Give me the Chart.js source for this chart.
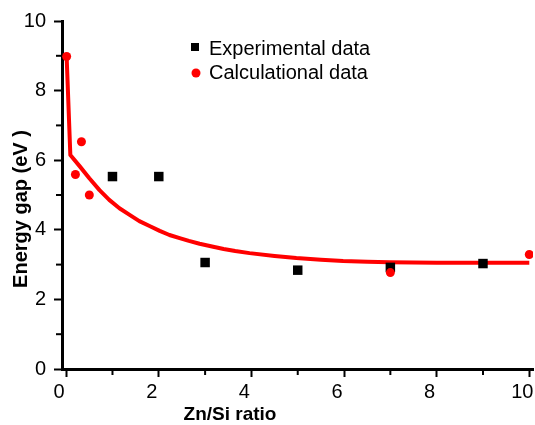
<!DOCTYPE html>
<html>
<head>
<meta charset="utf-8">
<script src="https://cdn.jsdelivr.net/npm/chart.js@4.4.0/dist/chart.umd.min.js"></script>
<style>
  html, body { margin: 0; padding: 0; background: #fff; }
  #wrap { width: 535px; height: 425px; }
</style>
</head>
<body>
<div id="wrap"><canvas id="chart"></canvas></div>
<script>
'use strict';

// experimental points (black squares)
var expX = [1, 2, 3, 5, 7, 9]
var expY = [5.53, 5.53, 3.06, 2.84, 2.92, 3.03]

// calculated points (red dots)
var calcX = [0.01, 0.2, 0.33, 0.5, 7, 10]
var calcY = [8.98, 5.59, 6.53, 5.0, 2.77, 3.29]

// fitted curve
var fitX = [0.01, 0.09, 0.29, 0.5, 0.72, 0.93, 1.15, 1.37, 1.58, 1.8, 2.02, 2.23, 2.45, 2.65, 2.88, 3.15, 3.4, 3.65, 3.96, 4.5, 4.97, 5.5, 5.98, 6.5, 6.98, 8, 9, 10]
var fitY = [8.98, 6.15, 5.83, 5.48, 5.14, 4.86, 4.62, 4.43, 4.25, 4.11, 3.97, 3.85, 3.76, 3.68, 3.6, 3.52, 3.45, 3.39, 3.33, 3.25, 3.19, 3.14, 3.1, 3.08, 3.07, 3.05, 3.05, 3.05]

var xTicks = [0, 2, 4, 6, 8, 10]
var yTicks = [0, 2, 4, 6, 8, 10]
var xMinor = [1, 3, 5, 7, 9]
var yMinor = [1, 3, 5, 7, 9]

var legendLabels = ['Experimental data', 'Calculational data']
var xTitle = 'Zn/Si ratio'
var yTitle = 'Energy gap (eV )'

var red = 'rgb(255, 0, 0)'
var black = '#000'

function toPoints(xs, ys) {
    var pts = []
    for (var i = 0; i < xs.length; i++) {
        pts.push({ x: xs[i], y: ys[i] })
    }
    return pts
}

var extras = {
    id: 'extras',
    afterDraw: function(chart) {
        var ctx = chart.ctx
        var sx = chart.scales.x
        var sy = chart.scales.y
        var area = chart.chartArea
        ctx.save()

        // minor ticks
        ctx.strokeStyle = black
        ctx.lineWidth = 2
        for (var v of xMinor) {
            var px = sx.getPixelForValue(v)
            ctx.beginPath()
            ctx.moveTo(px, area.bottom)
            ctx.lineTo(px, area.bottom + 6)
            ctx.stroke()
        }
        for (var v of yMinor) {
            var py = sy.getPixelForValue(v)
            ctx.beginPath()
            ctx.moveTo(area.left, py)
            ctx.lineTo(area.left - 6, py)
            ctx.stroke()
        }

        // legend
        ctx.fillStyle = black
        ctx.fillRect(191, 43, 8, 8)
        ctx.fillStyle = red
        ctx.beginPath()
        ctx.arc(196, 73, 4.5, 0, Math.PI * 2)
        ctx.fill()
        ctx.fillStyle = black
        ctx.font = '20px "Liberation Sans", Arial, sans-serif'
        ctx.textAlign = 'left'
        ctx.textBaseline = 'alphabetic'
        ctx.fillText(legendLabels[0], 209, 55)
        ctx.fillText(legendLabels[1], 209, 79)

        // axis titles
        ctx.font = 'bold 19px "Liberation Sans", Arial, sans-serif'
        ctx.textAlign = 'center'
        ctx.fillText(xTitle, 230, 420)
        ctx.font = 'bold 20px "Liberation Sans", Arial, sans-serif'
        ctx.translate(27, 209)
        ctx.rotate(-Math.PI / 2)
        ctx.fillText(yTitle, 0, 0)

        ctx.restore()
    }
}

var ctx = document.getElementById('chart').getContext('2d')
new Chart(ctx, {
    type: 'scatter',
    data: {
        datasets: [{
            label: legendLabels[1],
            data: toPoints(calcX, calcY),
            pointStyle: 'circle',
            pointRadius: 4.5,
            pointBackgroundColor: red,
            pointBorderWidth: 0,
            order: 1
        }, {
            label: legendLabels[0],
            data: toPoints(expX, expY),
            pointStyle: 'rect',
            pointRadius: 6.7,
            pointBackgroundColor: black,
            pointBorderWidth: 0,
            order: 2
        }, {
            label: 'fit',
            data: toPoints(fitX, fitY),
            showLine: true,
            borderColor: red,
            borderWidth: 4,
            borderJoinStyle: 'round',
            pointRadius: 0,
            tension: 0,
            order: 3
        }]
    },
    options: {
        responsive: true,
        maintainAspectRatio: false,
        animation: false,
        layout: {
            autoPadding: false,
            padding: { top: 21, right: 2, bottom: 0, left: 0 }
        },
        plugins: {
            legend: { display: false },
            tooltip: { enabled: false }
        },
        scales: {
            x: {
                type: 'linear',
                min: -0.09,
                max: 10.08,
                afterBuildTicks: function(scale) {
                    scale.ticks = xTicks.map(function(v) { return { value: v } })
                },
                afterFit: function(scale) {
                    scale.height = 56
                    scale.paddingLeft = 0
                    scale.paddingRight = 0
                },
                border: { display: true, color: black, width: 3 },
                grid: {
                    drawOnChartArea: false,
                    drawTicks: true,
                    tickLength: 8,
                    tickWidth: 2,
                    tickColor: black
                },
                ticks: {
                    color: black,
                    padding: 3,
                    labelOffset: -7,
                    maxRotation: 0,
                    font: { family: '"Liberation Sans", Arial, sans-serif', size: 20 }
                }
            },
            y: {
                type: 'linear',
                min: 0,
                max: 10,
                afterBuildTicks: function(scale) {
                    scale.ticks = yTicks.map(function(v) { return { value: v } })
                },
                afterFit: function(scale) {
                    scale.width = 62
                    scale.paddingTop = 0
                    scale.paddingBottom = 0
                },
                border: { display: true, color: black, width: 3 },
                grid: {
                    drawOnChartArea: false,
                    drawTicks: true,
                    tickLength: 8,
                    tickWidth: 2,
                    tickColor: black
                },
                ticks: {
                    color: black,
                    padding: 8,
                    font: { family: '"Liberation Sans", Arial, sans-serif', size: 20 }
                }
            }
        }
    },
    plugins: [extras]
})
</script>
</body>
</html>
